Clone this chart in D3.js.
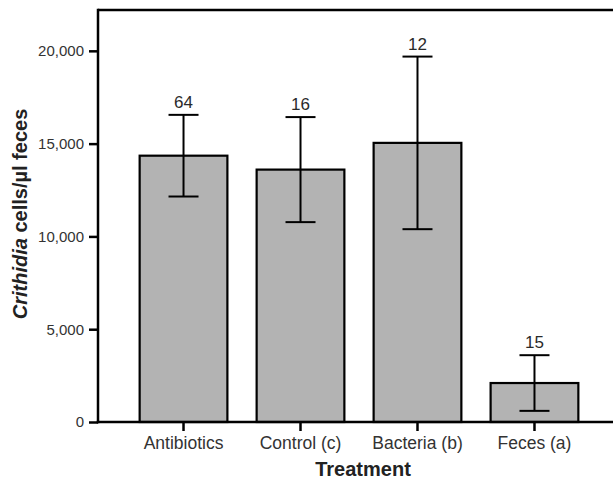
<!DOCTYPE html>
<html>
<head>
<meta charset="utf-8">
<script src="https://cdn.jsdelivr.net/npm/d3@7"></script>
<style>
  html, body { margin: 0; padding: 0; background: #fff; }
  svg { display: block; }
</style>
</head>
<body>
<script>
const categories = ["Antibiotics", "Control (c)", "Bacteria (b)", "Feces (a)"];
const means = [14350, 13600, 15040, 2100];
const errors = [2200, 2830, 4650, 1500];
const sampleSizes = ["64", "16", "12", "15"];
const yTicks = [0, 5000, 10000, 15000, 20000];

(function () {
const W = 613, H = 479;
const mLeft = 98, mTop = 10, mBottom = 422, rightEnd = 620;
const font = "'Liberation Sans', Arial, sans-serif";

const svg = d3.select("body").append("svg").attr("width", W).attr("height", H);

const x = d3.scaleBand().domain(categories).range([mLeft, rightEnd])
  .paddingInner(0.25).paddingOuter(0.356);
const y = d3.scaleLinear().domain([0, 22200]).range([mBottom, mTop]);

const data = categories.map((c, i) => ({ c, m: means[i], e: errors[i], n: sampleSizes[i] }));

// bars
svg.selectAll("rect.bar").data(data).join("rect")
  .attr("x", d => x(d.c)).attr("width", x.bandwidth())
  .attr("y", d => y(d.m)).attr("height", d => y(0) - y(d.m))
  .attr("fill", "#b3b3b3").attr("stroke", "#000").attr("stroke-width", 2.2);

// error bars
const cap = 15;
const cx = d => x(d.c) + x.bandwidth() / 2;
const eb = svg.selectAll("g.eb").data(data).join("g");
eb.append("line")
  .attr("x1", cx).attr("x2", cx)
  .attr("y1", d => y(d.m + d.e)).attr("y2", d => y(d.m - d.e))
  .attr("stroke", "#000").attr("stroke-width", 2);
eb.append("line")
  .attr("x1", d => cx(d) - cap).attr("x2", d => cx(d) + cap)
  .attr("y1", d => y(d.m + d.e)).attr("y2", d => y(d.m + d.e))
  .attr("stroke", "#000").attr("stroke-width", 2);
eb.append("line")
  .attr("x1", d => cx(d) - cap).attr("x2", d => cx(d) + cap)
  .attr("y1", d => y(d.m - d.e)).attr("y2", d => y(d.m - d.e))
  .attr("stroke", "#000").attr("stroke-width", 2);
eb.append("text")
  .attr("x", cx)
  .attr("y", d => y(d.m + d.e) - 7)
  .attr("text-anchor", "middle")
  .attr("font-family", font).attr("font-size", 17).attr("fill", "#2a2a2a")
  .text(d => d.n);

// top frame line
svg.append("line").attr("x1", mLeft).attr("x2", W + 5).attr("y1", mTop).attr("y2", mTop)
  .attr("stroke", "#000").attr("stroke-width", 2.5);

// y axis
const yAxis = svg.append("g").attr("transform", `translate(${mLeft},0)`)
  .call(d3.axisLeft(y).tickValues(yTicks).tickSize(9).tickPadding(5).tickFormat(d3.format(",")));
yAxis.select(".domain").remove();
yAxis.selectAll(".tick line").attr("stroke", "#000").attr("stroke-width", 2.5);
yAxis.selectAll(".tick text").attr("font-family", font).attr("font-size", 15).attr("fill", "#333");
svg.append("line").attr("x1", mLeft).attr("x2", mLeft).attr("y1", mTop - 1.25).attr("y2", mBottom + 1.25)
  .attr("stroke", "#000").attr("stroke-width", 2.5);

// x axis
const xAxis = svg.append("g").attr("transform", `translate(0,${mBottom})`)
  .call(d3.axisBottom(x).tickSize(9).tickPadding(6));
xAxis.select(".domain").remove();
xAxis.selectAll(".tick line").attr("stroke", "#000").attr("stroke-width", 2.5);
xAxis.selectAll(".tick text").attr("font-family", font).attr("font-size", 17.5).attr("fill", "#333");
svg.append("line").attr("x1", mLeft - 1.25).attr("x2", W + 5).attr("y1", mBottom).attr("y2", mBottom)
  .attr("stroke", "#000").attr("stroke-width", 2.5);

// axis titles
svg.append("text")
  .attr("x", 363).attr("y", 476)
  .attr("text-anchor", "middle")
  .attr("font-family", font).attr("font-size", 20).attr("font-weight", "bold").attr("fill", "#222")
  .text("Treatment");

const yt = svg.append("text")
  .attr("transform", `translate(27,214) rotate(-90)`)
  .attr("text-anchor", "middle")
  .attr("font-family", font).attr("font-size", 20).attr("font-weight", "bold").attr("fill", "#222");
yt.append("tspan").attr("font-style", "italic").text("Crithidia");
yt.append("tspan").text(" cells/µl feces");
})();
</script>
</body>
</html>
